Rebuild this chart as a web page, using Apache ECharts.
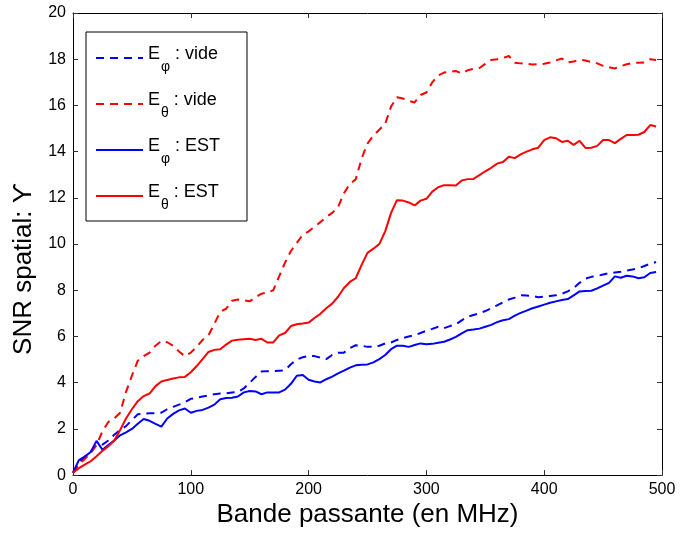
<!DOCTYPE html>
<html>
<head>
<meta charset="utf-8">
<script src="https://cdn.jsdelivr.net/npm/echarts@6/dist/echarts.min.js"></script>
<style>html,body{margin:0;padding:0;background:#fff}#c{width:680px;height:533px}</style>
</head>
<body>
<div id="c"></div>
<script>
// Bandwidth (MHz)
const bandwidth = [0,5,10,15,20,25,30,35,40,45,50,55,60,65,70,75,80,85,90,95,100,105,110,115,120,125,130,135,140,145,150,155,160,165,170,175,180,185,190,195,200,205,210,215,220,225,230,235,240,245,250,255,260,265,270,275,280,285,290,295,300,305,310,315,320,325,330,335,340,345,350,355,360,365,370,375,380,385,390,395,400,405,410,415,420,425,430,435,440,445,450,455,460,465,470,475,480,485,490,495];

const phiVide = [0.1,0.55,0.8,1.0,1.3,1.32,1.5,1.75,1.95,2.12,2.38,2.63,2.66,2.68,2.68,2.7,2.85,2.95,3.05,3.15,3.3,3.35,3.4,3.45,3.5,3.53,3.54,3.57,3.6,3.75,4.0,4.25,4.48,4.5,4.5,4.52,4.54,4.8,5.0,5.1,5.16,5.15,5.08,5.02,5.2,5.3,5.3,5.5,5.62,5.6,5.55,5.55,5.6,5.7,5.74,5.85,5.93,6.0,6.05,6.15,6.25,6.33,6.42,6.36,6.45,6.53,6.7,6.85,6.93,7.0,7.1,7.22,7.35,7.48,7.6,7.68,7.78,7.77,7.75,7.7,7.72,7.75,7.78,7.85,7.95,8.1,8.32,8.5,8.58,8.62,8.68,8.74,8.77,8.8,8.85,8.9,8.95,9.05,9.15,9.22];

const thetaVide = [0.1,0.45,0.7,0.95,1.3,1.9,2.3,2.45,2.7,3.6,4.3,4.95,5.15,5.3,5.6,5.8,5.75,5.6,5.35,5.15,5.3,5.55,5.85,6.05,6.55,7.07,7.2,7.55,7.6,7.57,7.52,7.7,7.85,7.9,8.0,8.6,9.2,9.7,10.05,10.4,10.55,10.75,10.95,11.17,11.35,11.6,12.2,12.6,12.8,13.7,14.35,14.7,14.95,15.2,15.95,16.35,16.3,16.2,16.13,16.45,16.56,17.0,17.3,17.42,17.46,17.49,17.39,17.52,17.58,17.62,17.8,17.97,18.0,18.05,18.14,17.85,17.82,17.8,17.77,17.78,17.8,17.86,17.95,18.03,17.86,17.9,17.98,17.94,17.88,17.82,17.71,17.65,17.6,17.7,17.78,17.83,17.85,17.86,18.0,17.97];

const phiEST = [0.1,0.65,0.8,1.0,1.48,1.1,1.3,1.5,1.72,1.85,2.0,2.22,2.43,2.35,2.22,2.1,2.45,2.65,2.8,2.88,2.7,2.78,2.82,2.92,3.05,3.28,3.34,3.35,3.4,3.58,3.64,3.62,3.5,3.58,3.58,3.58,3.7,3.95,4.3,4.33,4.13,4.05,4.01,4.15,4.26,4.4,4.52,4.65,4.75,4.78,4.79,4.88,5.02,5.2,5.45,5.6,5.6,5.55,5.63,5.7,5.66,5.68,5.73,5.77,5.87,5.98,6.13,6.27,6.3,6.34,6.42,6.5,6.62,6.7,6.75,6.9,7.02,7.12,7.22,7.3,7.38,7.46,7.52,7.58,7.62,7.78,7.95,7.97,7.98,8.08,8.2,8.32,8.6,8.54,8.63,8.6,8.52,8.56,8.75,8.79];

const thetaEST = [0.1,0.3,0.45,0.6,0.82,1.05,1.25,1.5,1.95,2.45,2.85,3.2,3.42,3.53,3.85,4.05,4.12,4.18,4.23,4.25,4.45,4.72,5.02,5.33,5.42,5.45,5.65,5.82,5.86,5.88,5.9,5.85,5.9,5.74,5.74,6.05,6.15,6.45,6.53,6.56,6.6,6.8,6.98,7.22,7.42,7.72,8.1,8.36,8.52,9.1,9.62,9.8,10.0,10.55,11.35,11.9,11.88,11.8,11.67,11.88,11.96,12.27,12.46,12.55,12.54,12.53,12.75,12.81,12.82,12.98,13.15,13.3,13.48,13.55,13.78,13.72,13.88,14.0,14.1,14.17,14.5,14.62,14.58,14.42,14.47,14.29,14.47,14.16,14.17,14.25,14.5,14.5,14.37,14.55,14.72,14.72,14.73,14.85,15.15,15.09];

const xTicks = [0,100,200,300,400,500];
const yTicks = [0,2,4,6,8,10,12,14,16,18,20];

const seriesNames = ['E\u03c6 : vide','E\u03b8 : vide','E\u03c6 : EST','E\u03b8 : EST'];
const xTitle = 'Bande passante (en MHz)';
const yTitle = 'SNR spatial: \u03d2';

const FONT = '"Liberation Sans", Arial, Helvetica, sans-serif';
const pair = ys => bandwidth.map((x,i)=>[x, ys[i]]);

const mk = (name, ys, color, dashed) => ({
  name, type:'line', data: pair(ys), symbol:'none', showSymbol:false,
  xAxisIndex:0, yAxisIndex:0, animation:false, z:2,
  lineStyle:{color, width:2, type: dashed ? [8,6] : 'solid'},
  itemStyle:{color}
});

const axCommon = {
  axisLine:{show:true, onZero:false, lineStyle:{color:'#000', width:1}},
  axisTick:{show:true, inside:true, length:5, lineStyle:{color:'#333', width:1}},
  splitLine:{show:false}
};

const chart = echarts.init(document.getElementById('c'), null, {renderer:'canvas'});
chart.setOption({
  animation:false,
  backgroundColor:'#fff',
  grid:{left:73, right:18, top:13, bottom:56, containLabel:false},
  xAxis:[
    Object.assign({type:'value', min:xTicks[0], max:xTicks[xTicks.length-1], interval:100, position:'bottom',
      name:xTitle, nameLocation:'middle', nameGap:26,
      nameTextStyle:{fontFamily:FONT, fontSize:26, color:'#000'},
      axisLabel:{fontFamily:FONT, fontSize:16, color:'#000', margin:6}}, axCommon),
    Object.assign({type:'value', min:xTicks[0], max:xTicks[xTicks.length-1], interval:100, position:'top',
      axisLabel:{show:false}}, axCommon)
  ],
  yAxis:[
    Object.assign({type:'value', min:yTicks[0], max:yTicks[yTicks.length-1], interval:2, position:'left',
      name:yTitle, nameLocation:'middle', nameGap:33,
      nameTextStyle:{fontFamily:FONT, fontSize:26, color:'#000', padding:[0,50,0,0]},
      axisLabel:{fontFamily:FONT, fontSize:16, color:'#000', margin:7}}, axCommon),
    Object.assign({type:'value', min:yTicks[0], max:yTicks[yTicks.length-1], interval:2, position:'right',
      axisLabel:{show:false}}, axCommon)
  ],
  graphic:[{type:'rect', z:3, shape:{x:86, y:32, width:161, height:189},
    style:{fill:'#fff', stroke:'#000', lineWidth:1}}],
  legend:{
    data: seriesNames, orient:'vertical', left:95, top:42, padding:0, itemGap:14,
    itemWidth:47, itemHeight:14, z:5,
    itemStyle:{opacity:0},
    formatter: n => '{e|E}{s|' + n[1] + '}{t|' + n.slice(2) + '}',
    textStyle:{fontFamily:FONT, color:'#000',
      rich:{
        e:{fontFamily:FONT, fontSize:18, lineHeight:18, padding:[0,0,8,0], color:'#000'},
        s:{fontFamily:FONT, fontSize:14, lineHeight:15, padding:[18,0,0,1], color:'#000'},
        t:{fontFamily:FONT, fontSize:18, lineHeight:18, padding:[0,0,8,0], color:'#000'}
      }}
  },
  series:[
    mk(seriesNames[0], phiVide, '#0000ff', true),
    mk(seriesNames[1], thetaVide, '#ff0000', true),
    mk(seriesNames[2], phiEST, '#0000ff', false),
    mk(seriesNames[3], thetaEST, '#ff0000', false)
  ]
});
</script>
</body>
</html>
